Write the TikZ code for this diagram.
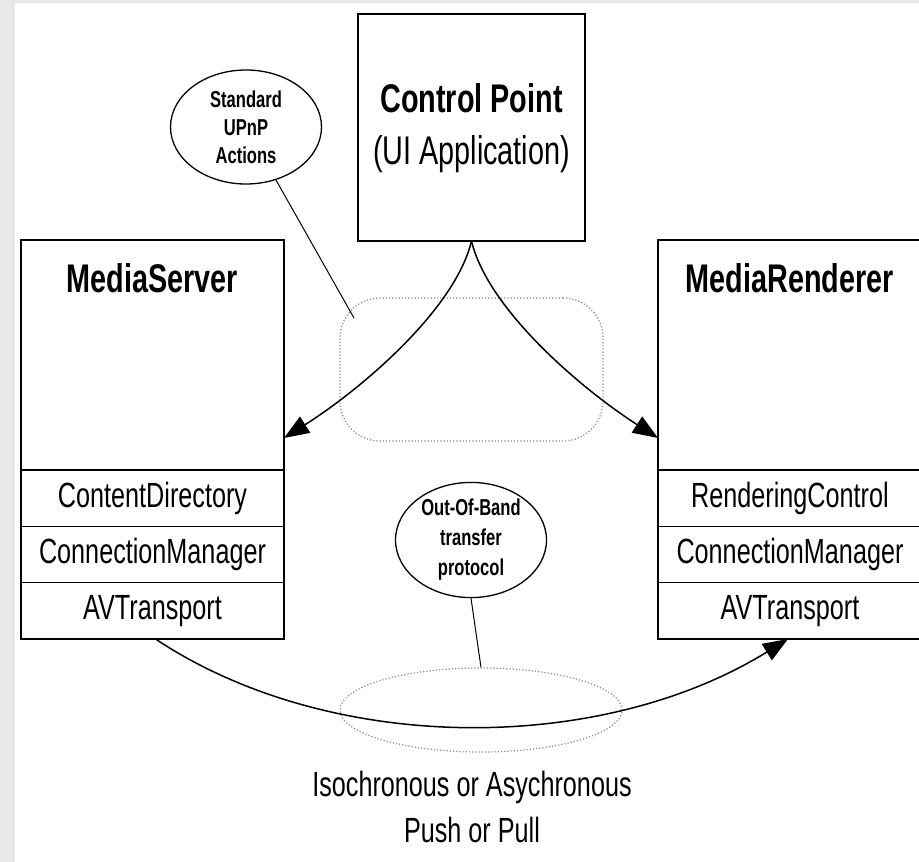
\documentclass[tikz,border=0pt]{standalone}
\usepackage{fontspec}
\setmainfont{Liberation Sans}[FakeStretch=0.72]
\usetikzlibrary{arrows.meta,shapes.geometric}
\definecolor{bggray}{HTML}{E8E8E8}
\definecolor{dotgray}{HTML}{8A8A8A}
\begin{document}
\begin{tikzpicture}[x=1pt,y=-1pt,
  box/.style={draw=black, line width=1.5pt, fill=white, inner sep=0pt, outer sep=0pt, minimum width=263pt},
  row/.style={box, minimum height=56.33pt, font=\fontsize{35}{40}\selectfont, text height=25pt, text depth=7pt},
  title/.style={inner sep=0pt, font=\bfseries\fontsize{40}{44}\selectfont},
  ell/.style={draw=black, ellipse, line width=1.3pt, inner sep=0pt, align=center, minimum width=151pt, minimum height=114pt},
  zonestyle/.style={draw=dotgray, dotted, line width=1.2pt, inner sep=0pt},
  conn/.style={draw=black, line width=1pt},
  arr/.style={draw=black, line width=1.5pt, -{Triangle[length=25pt,width=19pt]}}
]
\useasboundingbox (0,0) rectangle (919,862);
\clip (0,0) rectangle (919,862);
\fill[white] (0,0) rectangle (919,862);
\fill[bggray] (0,0) rectangle (15,862);
\fill[bggray] (0,0) rectangle (919,3);

% dotted zones
\node[zonestyle, rounded corners=40pt, minimum width=263pt, minimum height=143pt] (zone) at (471.5,369.5) {};
\node[zonestyle, ellipse, minimum width=282pt, minimum height=84pt] (iso) at (481,710) {};

% Control point
\node[box, minimum width=227pt, minimum height=227pt] (cp) at (471.5,127.5) {};
\node[title] (cpt) at (471.5,98) {Control Point};
\node[inner sep=0pt, font=\fontsize{40}{44}\selectfont] (cps) at (471.5,154) {(UI Application)};

% MediaServer
\node[box, minimum height=230pt, anchor=north west] (ms) at (21,240) {};
\node[title] (mst) at (152.5,278) {MediaServer};
\node[row, anchor=north] (ms1) at (ms.south) {ContentDirectory};
\node[row, anchor=north] (ms2) at (ms1.south) {ConnectionManager};
\node[row, anchor=north] (ms3) at (ms2.south) {AVTransport};

% MediaRenderer
\node[box, minimum width=264pt, minimum height=230pt, anchor=north west] (mr) at (658,240) {};
\node[title] (mrt) at (790,278) {MediaRenderer};
\node[row, minimum width=264pt, anchor=north] (mr1) at (mr.south) {RenderingControl};
\node[row, minimum width=264pt, anchor=north] (mr2) at (mr1.south) {ConnectionManager};
\node[row, minimum width=264pt, anchor=north] (mr3) at (mr2.south) {AVTransport};

% callouts
\node[ell, font=\bfseries\fontsize{23}{28}\selectfont] (std) at (246,127) {Standard\\UPnP\\Actions};
\node[ell, font=\bfseries\fontsize{23}{30}\selectfont] (oob) at (471,540) {Out-Of-Band\\transfer\\protocol};
\coordinate (stdend) at (354,318);
\draw[conn] (std) -- (stdend);
\draw[conn] (oob.south) -- (iso.north);

% bottom label
\node[inner sep=0pt, align=center, font=\fontsize{35}{46}\selectfont] (isot) at (472,807) {Isochronous or Asychronous\\Push or Pull};

% arrows
\draw[arr] (cp.south) .. controls (455,310) and (360,390) .. ([yshift=32pt]ms.south east);
\draw[arr] (cp.south) .. controls (488,310) and (583,390) .. ([yshift=32pt]mr.south west);
\draw[arr] ([xshift=3pt]ms3.south) .. controls (330,755) and (600,755) .. ([xshift=-2pt]mr3.south);
\end{tikzpicture}
\end{document}
